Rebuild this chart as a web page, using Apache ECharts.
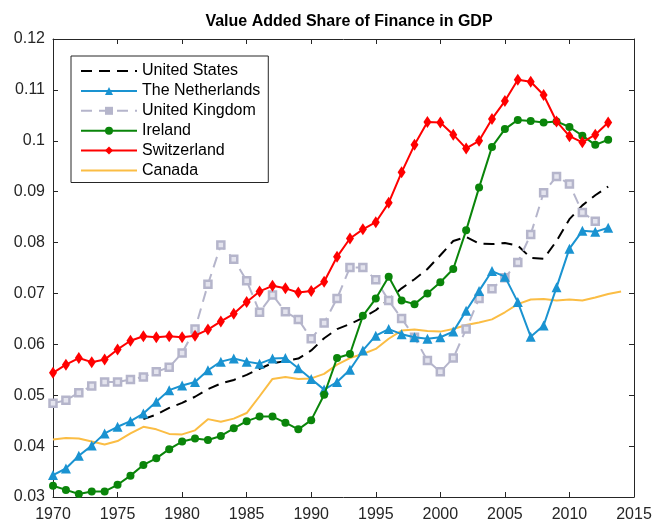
<!DOCTYPE html>
<html>
<head>
<meta charset="utf-8">
<script src="https://cdn.jsdelivr.net/npm/echarts@6/dist/echarts.min.js"></script>
<style>html,body{margin:0;padding:0;background:#fff}#c{width:656px;height:523px}</style>
</head>
<body>
<div id="c"></div>
<script>
// ---- data ----
const xTicks = [1970, 1975, 1980, 1985, 1990, 1995, 2000, 2005, 2010, 2015];
const usStart = 1977;
const usValues = [0.0453,0.0462,0.0475,0.0485,0.0497,0.0512,0.0523,0.0530,0.0540,0.0552,0.0563,0.0567,0.0572,0.0588,0.0612,0.0630,0.0640,0.0652,0.0667,0.0688,0.0710,0.0728,0.0748,0.0775,0.0803,0.0811,0.0798,0.0797,0.0799,0.0794,0.0770,0.0768,0.0803,0.0846,0.0873,0.0893,0.0910];
const nlStart = 1970;
const nlValues = [0.0343,0.0356,0.0381,0.0401,0.0425,0.0438,0.0449,0.0464,0.0487,0.0510,0.0519,0.0526,0.0549,0.0566,0.0572,0.0566,0.0562,0.0572,0.0573,0.0553,0.0532,0.0511,0.0526,0.0550,0.0588,0.0617,0.0630,0.0620,0.0614,0.0611,0.0614,0.0625,0.0666,0.0705,0.0744,0.0733,0.0683,0.0615,0.0637,0.0712,0.0788,0.0823,0.0821,0.0829];
const ukStart = 1970;
const ukValues = [0.0484,0.0490,0.0505,0.0518,0.0526,0.0526,0.0531,0.0536,0.0546,0.0555,0.0583,0.0630,0.0718,0.0795,0.0767,0.0725,0.0663,0.0697,0.0664,0.0649,0.0611,0.0642,0.0690,0.0751,0.0751,0.0727,0.0686,0.0651,0.0614,0.0568,0.0546,0.0573,0.0630,0.0690,0.0709,0.0731,0.0761,0.0816,0.0898,0.0930,0.0915,0.0859,0.0842];
const ieStart = 1970;
const ieValues = [0.0322,0.0314,0.0306,0.0311,0.0311,0.0324,0.0342,0.0363,0.0376,0.0394,0.0409,0.0415,0.0412,0.0420,0.0435,0.0449,0.0458,0.0458,0.0446,0.0433,0.0451,0.0501,0.0573,0.0581,0.0656,0.0690,0.0733,0.0686,0.0679,0.0700,0.0722,0.0748,0.0824,0.0908,0.0988,0.1023,0.1041,0.1039,0.1036,0.1038,0.1027,0.1010,0.0992,0.1002];
const chStart = 1970;
const chValues = [0.0544,0.0560,0.0573,0.0565,0.0570,0.0590,0.0607,0.0616,0.0614,0.0616,0.0614,0.0617,0.0629,0.0645,0.0660,0.0683,0.0704,0.0715,0.0710,0.0702,0.0705,0.0723,0.0772,0.0808,0.0826,0.0840,0.0878,0.0938,0.0992,0.1037,0.1036,0.1012,0.0985,0.1000,0.1043,0.1078,0.1120,0.1116,0.1090,0.1038,0.1009,0.0997,0.1012,0.1036];
const caStart = 1970;
const caValues = [0.0413,0.0416,0.0415,0.0409,0.0403,0.0410,0.0425,0.0438,0.0433,0.0424,0.0423,0.0431,0.0453,0.0448,0.0454,0.0465,0.0498,0.0532,0.0536,0.0532,0.0533,0.0542,0.0560,0.0573,0.0581,0.0591,0.0611,0.0627,0.0629,0.0626,0.0625,0.0630,0.0638,0.0643,0.0649,0.0663,0.0679,0.0688,0.0689,0.0686,0.0688,0.0686,0.0692,0.0699,0.0704];
const names = ['United States','The Netherlands','United Kingdom','Ireland','Switzerland','Canada'];

function pairs(start, vals){ return vals.map((v,i)=>[start+i, v]); }

const FONT = '"Liberation Sans", Arial, Helvetica, sans-serif';
const AX = '#262626';
const C = {us:'#000000', nl:'#1a93d1', uk:'#b5b5cb', ie:'#0a850a', ch:'#ff0000', ca:'#fbbd44'};

const chart = echarts.init(document.getElementById('c'), null, {renderer:'canvas'});
const baseX = {
  type:'value', min:1970, max:2015, interval:5,
  axisLine:{show:true, onZero:false, lineStyle:{color:AX, width:1}},
  axisTick:{show:true, inside:true, length:5, lineStyle:{color:AX}},
  splitLine:{show:false}
};
const baseY = {
  type:'value', min:0.03, max:0.12, interval:0.01,
  axisLine:{show:true, onZero:false, lineStyle:{color:AX, width:1}},
  axisTick:{show:true, inside:true, length:5, lineStyle:{color:AX}},
  splitLine:{show:false}
};
chart.setOption({
  animation:false,
  backgroundColor:'#fff',
  title:{text:'Value Added Share of Finance in GDP', left:344, textAlign:'center', top:9,
    textStyle:{fontFamily:FONT, fontSize:16, fontWeight:'bold', color:'#000'}},
  grid:{left:53, right:22, top:39, bottom:24.5},
  xAxis:[
    Object.assign({}, baseX, {position:'bottom', axisLabel:{margin:10, fontFamily:FONT, fontSize:16, color:AX,
      formatter:v=>String(Math.round(v))}}),
    Object.assign({}, baseX, {position:'top', axisLabel:{show:false}})
  ],
  yAxis:[
    Object.assign({}, baseY, {position:'left', axisLabel:{margin:8, fontFamily:FONT, fontSize:16, color:AX,
      formatter:v=>String(Math.round(v*100)/100)}}),
    Object.assign({}, baseY, {position:'right', axisLabel:{show:false}})
  ],
  legend:{
    orient:'vertical', left:71, top:56,
    padding:[7,8,4,9],
    itemWidth:56, itemHeight:10, itemGap:3.9,
    borderColor:'#262626', borderWidth:1, backgroundColor:'#fff',
    textStyle:{fontFamily:FONT, fontSize:16, color:'#000', lineHeight:16},
    data:[
      {name:names[0], itemStyle:{opacity:0}},
      {name:names[1]},
      {name:names[2], itemStyle:{color:C.uk, borderColor:C.uk, borderWidth:0}},
      {name:names[3]},
      {name:names[4]},
      {name:names[5], itemStyle:{opacity:0}}
    ]
  },
  series:[
    {name:names[0], type:'line', data:pairs(usStart, usValues), symbol:'none', z:3,
      lineStyle:{color:C.us, width:2, type:[11,7]}, itemStyle:{color:C.us}},
    {name:names[1], type:'line', data:pairs(nlStart, nlValues), symbol:'triangle', symbolSize:10, z:4,
      lineStyle:{color:C.nl, width:2}, itemStyle:{color:C.nl}},
    {name:names[2], type:'line', data:pairs(ukStart, ukValues), symbol:'rect', symbolSize:7, z:3,
      lineStyle:{color:C.uk, width:2, type:[11,7]}, itemStyle:{color:'#e4e4ee', borderColor:C.uk, borderWidth:2.5}},
    {name:names[3], type:'line', data:pairs(ieStart, ieValues), symbol:'circle', symbolSize:8, z:5,
      lineStyle:{color:C.ie, width:2}, itemStyle:{color:C.ie}},
    {name:names[4], type:'line', data:pairs(chStart, chValues), symbol:'diamond', symbolSize:[8,12], z:6,
      lineStyle:{color:C.ch, width:2}, itemStyle:{color:C.ch}},
    {name:names[5], type:'line', data:pairs(caStart, caValues), symbol:'none', z:2,
      lineStyle:{color:C.ca, width:2}, itemStyle:{color:C.ca}}
  ]
});
</script>
</body>
</html>
